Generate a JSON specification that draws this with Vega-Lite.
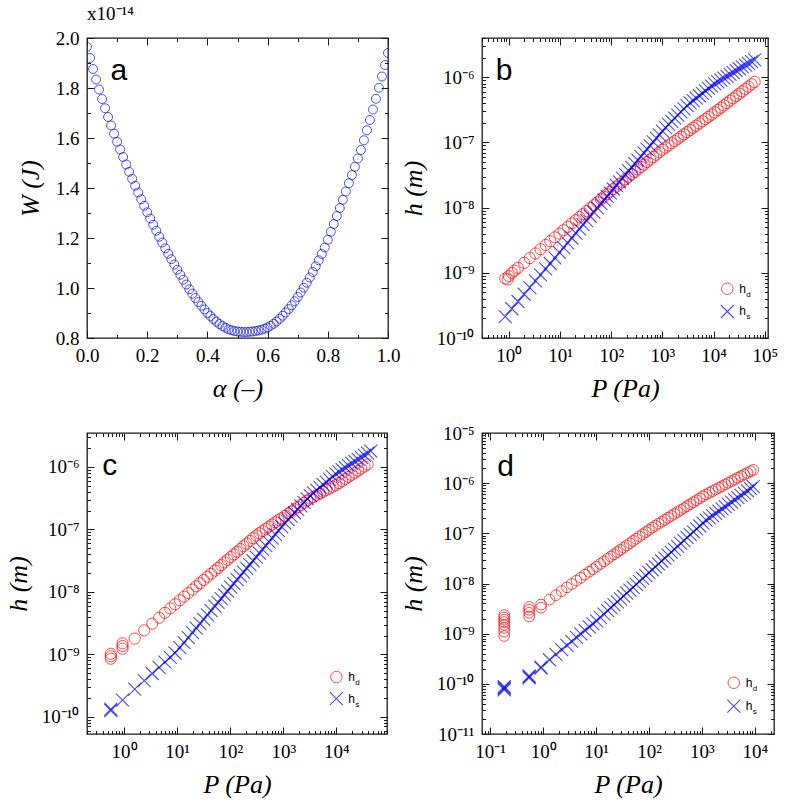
{
"$schema": "https://vega.github.io/schema/vega-lite/v6.json",
"background": "white",
"padding": {"left": 4, "top": 4, "right": 5, "bottom": 5},
"bounds": "flush",
"columns": 2,
"spacing": {"row": 95, "column": 94},
"datasets": {
"a": [
{"alpha":0,"W":1.965},{"alpha":0.01,"W":1.92},{"alpha":0.02,"W":1.876},{"alpha":0.03,"W":1.834},{"alpha":0.04,"W":1.794},{"alpha":0.05,"W":1.756},{"alpha":0.06,"W":1.719},{"alpha":0.07,"W":1.684},{"alpha":0.08,"W":1.65},{"alpha":0.09,"W":1.617},
{"alpha":0.1,"W":1.585},{"alpha":0.11,"W":1.554},{"alpha":0.12,"W":1.524},{"alpha":0.13,"W":1.494},{"alpha":0.14,"W":1.465},{"alpha":0.15,"W":1.437},{"alpha":0.16,"W":1.409},{"alpha":0.17,"W":1.382},{"alpha":0.18,"W":1.355},{"alpha":0.19,"W":1.329},
{"alpha":0.2,"W":1.303},{"alpha":0.21,"W":1.278},{"alpha":0.22,"W":1.253},{"alpha":0.23,"W":1.229},{"alpha":0.24,"W":1.205},{"alpha":0.25,"W":1.182},{"alpha":0.26,"W":1.159},{"alpha":0.27,"W":1.137},{"alpha":0.28,"W":1.115},{"alpha":0.29,"W":1.094},
{"alpha":0.3,"W":1.073},{"alpha":0.31,"W":1.053},{"alpha":0.32,"W":1.033},{"alpha":0.33,"W":1.014},{"alpha":0.34,"W":0.995},{"alpha":0.35,"W":0.977},{"alpha":0.36,"W":0.96},{"alpha":0.37,"W":0.944},{"alpha":0.38,"W":0.929},{"alpha":0.39,"W":0.914},
{"alpha":0.4,"W":0.9},{"alpha":0.41,"W":0.888},{"alpha":0.42,"W":0.876},{"alpha":0.43,"W":0.865},{"alpha":0.44,"W":0.856},{"alpha":0.45,"W":0.848},{"alpha":0.46,"W":0.841},{"alpha":0.47,"W":0.835},{"alpha":0.48,"W":0.831},{"alpha":0.49,"W":0.828},
{"alpha":0.5,"W":0.826},{"alpha":0.51,"W":0.825},{"alpha":0.52,"W":0.824},{"alpha":0.53,"W":0.824},{"alpha":0.54,"W":0.825},{"alpha":0.55,"W":0.826},{"alpha":0.56,"W":0.828},{"alpha":0.57,"W":0.83},{"alpha":0.58,"W":0.833},{"alpha":0.59,"W":0.837},
{"alpha":0.6,"W":0.842},{"alpha":0.61,"W":0.849},{"alpha":0.62,"W":0.857},{"alpha":0.63,"W":0.866},{"alpha":0.64,"W":0.877},{"alpha":0.65,"W":0.889},{"alpha":0.66,"W":0.902},{"alpha":0.67,"W":0.916},{"alpha":0.68,"W":0.931},{"alpha":0.69,"W":0.947},
{"alpha":0.7,"W":0.964},{"alpha":0.71,"W":0.982},{"alpha":0.72,"W":1.001},{"alpha":0.73,"W":1.021},{"alpha":0.74,"W":1.042},{"alpha":0.75,"W":1.064},{"alpha":0.76,"W":1.087},{"alpha":0.77,"W":1.111},{"alpha":0.78,"W":1.136},{"alpha":0.79,"W":1.162},
{"alpha":0.8,"W":1.193},{"alpha":0.81,"W":1.225},{"alpha":0.82,"W":1.256},{"alpha":0.83,"W":1.288},{"alpha":0.84,"W":1.32},{"alpha":0.85,"W":1.353},{"alpha":0.86,"W":1.386},{"alpha":0.87,"W":1.419},{"alpha":0.88,"W":1.452},{"alpha":0.89,"W":1.485},
{"alpha":0.9,"W":1.518},{"alpha":0.91,"W":1.552},{"alpha":0.92,"W":1.591},{"alpha":0.93,"W":1.631},{"alpha":0.94,"W":1.672},{"alpha":0.95,"W":1.714},{"alpha":0.96,"W":1.757},{"alpha":0.97,"W":1.801},{"alpha":0.98,"W":1.846},{"alpha":0.99,"W":1.892},
{"alpha":1,"W":1.94}
],
"b": [
{"P":0.851,"hd":8.18e-10,"hs":2.13e-10},{"P":0.95,"hd":7.9e-10},{"P":1.0,"hd":8.9e-10},{"P":1.3,"hd":1.08e-9},
{"P":1.148,"hd":9.94e-10,"hs":2.81e-10},{"P":1.514,"hd":1.19e-9,"hs":3.63e-10},{"P":1.995,"hd":1.42e-9,"hs":4.69e-10},{"P":2.57,"hd":1.68e-9,"hs":5.94e-10},{"P":3.311,"hd":1.98e-9,"hs":7.51e-10},{"P":4.169,"hd":2.3e-9,"hs":9.29e-10},{"P":5.248,"hd":2.67e-9,"hs":1.15e-9},{"P":6.457,"hd":3.05e-9,"hs":1.39e-9},{"P":7.943,"hd":3.5e-9,"hs":1.69e-9},{"P":9.772,"hd":4.0e-9,"hs":2.05e-9},
{"P":11.75,"hd":4.51e-9,"hs":2.43e-9},{"P":14.13,"hd":5.08e-9,"hs":2.88e-9},{"P":16.98,"hd":5.73e-9,"hs":3.42e-9},{"P":20.42,"hd":6.46e-9,"hs":4.05e-9},{"P":23.99,"hd":7.17e-9,"hs":4.71e-9},{"P":28.18,"hd":7.96e-9,"hs":5.47e-9},{"P":33.11,"hd":8.84e-9,"hs":6.34e-9},{"P":38.9,"hd":9.82e-9,"hs":7.37e-9},{"P":45.71,"hd":1.09e-8,"hs":8.55e-9},{"P":53.7,"hd":1.21e-8,"hs":9.93e-9},
{"P":63.1,"hd":1.34e-8,"hs":1.15e-8},{"P":72.44,"hd":1.47e-8,"hs":1.31e-8},{"P":83.18,"hd":1.61e-8,"hs":1.49e-8},{"P":95.5,"hd":1.76e-8,"hs":1.69e-8},{"P":109.6,"hd":1.92e-8,"hs":1.93e-8},{"P":125.9,"hd":2.1e-8,"hs":2.19e-8},{"P":144.5,"hd":2.29e-8,"hs":2.49e-8},{"P":166,"hd":2.49e-8,"hs":2.83e-8},{"P":190.5,"hd":2.72e-8,"hs":3.21e-8},{"P":218.8,"hd":2.97e-8,"hs":3.65e-8},
{"P":251.2,"hd":3.24e-8,"hs":4.15e-8},{"P":288.4,"hd":3.53e-8,"hs":4.72e-8},{"P":331.1,"hd":3.86e-8,"hs":5.36e-8},{"P":380.2,"hd":4.21e-8,"hs":6.1e-8},{"P":436.5,"hd":4.59e-8,"hs":6.93e-8},{"P":501.2,"hd":5.01e-8,"hs":7.88e-8},{"P":575.4,"hd":5.46e-8,"hs":8.95e-8},{"P":660.7,"hd":5.96e-8,"hs":1.02e-7},{"P":758.6,"hd":6.5e-8,"hs":1.16e-7},{"P":871,"hd":7.09e-8,"hs":1.31e-7},
{"P":1000,"hd":7.74e-8,"hs":1.49e-7},{"P":1148,"hd":8.36e-8,"hs":1.69e-7},{"P":1318,"hd":9.03e-8,"hs":1.89e-7},{"P":1514,"hd":9.76e-8,"hs":2.11e-7},{"P":1738,"hd":1.05e-7,"hs":2.36e-7},{"P":1995,"hd":1.14e-7,"hs":2.63e-7},{"P":2291,"hd":1.23e-7,"hs":2.94e-7},{"P":2630,"hd":1.33e-7,"hs":3.28e-7},{"P":3020,"hd":1.44e-7,"hs":3.66e-7},{"P":3467,"hd":1.55e-7,"hs":4.03e-7},
{"P":3981,"hd":1.68e-7,"hs":4.39e-7},{"P":4571,"hd":1.81e-7,"hs":4.78e-7},{"P":5248,"hd":1.96e-7,"hs":5.2e-7},{"P":6026,"hd":2.11e-7,"hs":5.67e-7},{"P":6918,"hd":2.29e-7,"hs":6.18e-7},{"P":7943,"hd":2.47e-7,"hs":6.73e-7},{"P":9120,"hd":2.67e-7,"hs":7.33e-7},{"P":10470,"hd":2.89e-7,"hs":7.94e-7},{"P":12020,"hd":3.14e-7,"hs":8.48e-7},{"P":13800,"hd":3.41e-7,"hs":9.06e-7},
{"P":15850,"hd":3.7e-7,"hs":9.68e-7},{"P":18200,"hd":4.02e-7,"hs":1.03e-6},{"P":20890,"hd":4.37e-7,"hs":1.11e-6},{"P":23990,"hd":4.75e-7,"hs":1.18e-6},{"P":27540,"hd":5.16e-7,"hs":1.26e-6},{"P":31620,"hd":5.6e-7,"hs":1.35e-6},{"P":36310,"hd":6.09e-7,"hs":1.44e-6},{"P":41690,"hd":6.61e-7,"hs":1.53e-6},{"P":47860,"hd":7.19e-7,"hs":1.63e-6},{"P":54950,"hd":7.81e-7,"hs":1.73e-6},
{"P":63100,"hd":8.48e-7,"hs":1.84e-6}
],
"c": [
{"P":0.5623,"hd":8.51e-10,"hs":1.26e-10},{"P":0.5623,"hd":9.3e-10,"hs":1.33e-10},{"P":0.5623,"hd":1.02e-9},{"P":0.9333,"hd":1.23e-9,"hs":1.85e-10},{"P":0.9333,"hd":1.36e-9},{"P":0.9333,"hd":1.5e-9},
{"P":1.585,"hd":1.79e-9,"hs":2.77e-10},{"P":2.399,"hd":2.42e-9,"hs":3.79e-10},{"P":3.388,"hd":3.1e-9,"hs":4.93e-10},{"P":4.571,"hd":3.85e-9,"hs":6.19e-10},{"P":5.888,"hd":4.62e-9,"hs":7.5e-10},{"P":7.413,"hd":5.45e-9,"hs":8.94e-10},{"P":9.12,"hd":6.33e-9,"hs":1.05e-9},{"P":11.22,"hd":7.35e-9,"hs":1.28e-9},{"P":13.49,"hd":8.39e-9,"hs":1.54e-9},{"P":16.22,"hd":9.58e-9,"hs":1.85e-9},
{"P":19.5,"hd":1.09e-8,"hs":2.23e-9},{"P":22.91,"hd":1.23e-8,"hs":2.63e-9},{"P":26.92,"hd":1.38e-8,"hs":3.09e-9},{"P":31.62,"hd":1.55e-8,"hs":3.63e-9},{"P":37.15,"hd":1.74e-8,"hs":4.27e-9},{"P":43.65,"hd":1.95e-8,"hs":5.03e-9},{"P":51.29,"hd":2.19e-8,"hs":5.91e-9},{"P":58.88,"hd":2.42e-8,"hs":6.8e-9},{"P":67.61,"hd":2.68e-8,"hs":7.81e-9},{"P":77.62,"hd":2.96e-8,"hs":8.98e-9},
{"P":89.13,"hd":3.27e-8,"hs":1.03e-8},{"P":102.3,"hd":3.61e-8,"hs":1.19e-8},{"P":117.5,"hd":3.98e-8,"hs":1.36e-8},{"P":134.9,"hd":4.4e-8,"hs":1.57e-8},{"P":154.9,"hd":4.86e-8,"hs":1.8e-8},{"P":177.8,"hd":5.37e-8,"hs":2.07e-8},{"P":204.2,"hd":5.93e-8,"hs":2.38e-8},{"P":234.4,"hd":6.55e-8,"hs":2.74e-8},{"P":269.2,"hd":7.24e-8,"hs":3.15e-8},{"P":309,"hd":7.99e-8,"hs":3.61e-8},
{"P":354.8,"hd":8.69e-8,"hs":4.16e-8},{"P":407.4,"hd":9.41e-8,"hs":4.78e-8},{"P":467.7,"hd":1.02e-7,"hs":5.49e-8},{"P":537,"hd":1.11e-7,"hs":6.31e-8},{"P":616.6,"hd":1.2e-7,"hs":7.25e-8},{"P":707.9,"hd":1.3e-7,"hs":8.34e-8},{"P":812.8,"hd":1.41e-7,"hs":9.58e-8},{"P":933.3,"hd":1.52e-7,"hs":1.1e-7},{"P":1072,"hd":1.65e-7,"hs":1.26e-7},{"P":1230,"hd":1.79e-7,"hs":1.43e-7},
{"P":1413,"hd":1.94e-7,"hs":1.62e-7},{"P":1622,"hd":2.1e-7,"hs":1.85e-7},{"P":1862,"hd":2.27e-7,"hs":2.1e-7},{"P":2138,"hd":2.46e-7,"hs":2.39e-7},{"P":2455,"hd":2.67e-7,"hs":2.72e-7},{"P":2818,"hd":2.89e-7,"hs":3.09e-7},{"P":3236,"hd":3.12e-7,"hs":3.49e-7},{"P":3715,"hd":3.32e-7,"hs":3.86e-7},{"P":4266,"hd":3.54e-7,"hs":4.26e-7},{"P":4898,"hd":3.76e-7,"hs":4.71e-7},
{"P":5623,"hd":4.0e-7,"hs":5.2e-7},{"P":6457,"hd":4.26e-7,"hs":5.74e-7},{"P":7413,"hd":4.53e-7,"hs":6.34e-7},{"P":8511,"hd":4.83e-7,"hs":7.01e-7},{"P":9772,"hd":5.13e-7,"hs":7.74e-7},{"P":11220,"hd":5.53e-7,"hs":8.38e-7},{"P":12880,"hd":5.96e-7,"hs":9.05e-7},{"P":14790,"hd":6.43e-7,"hs":9.76e-7},{"P":16980,"hd":6.94e-7,"hs":1.05e-6},{"P":19500,"hd":7.49e-7,"hs":1.14e-6},
{"P":22390,"hd":8.08e-7,"hs":1.23e-6},{"P":25700,"hd":8.72e-7,"hs":1.32e-6},{"P":29510,"hd":9.41e-7,"hs":1.43e-6},{"P":33880,"hd":1.02e-6,"hs":1.54e-6},{"P":38900,"hd":1.1e-6,"hs":1.66e-6},{"P":44670,"hs":1.79e-6}
],
"d": [
{"P":0.184,"hd":9.0e-10,"hs":7.6e-11},{"P":0.184,"hd":1.1e-9,"hs":8.0e-11},{"P":0.184,"hd":1.3e-9,"hs":8.4e-11},{"P":0.184,"hd":1.5e-9,"hs":8.8e-11},{"P":0.184,"hd":1.7e-9},{"P":0.184,"hd":1.9e-9},{"P":0.184,"hd":2.1e-9},{"P":0.184,"hd":2.35e-9},
{"P":0.544,"hd":2.2e-9,"hs":1.32e-10},{"P":0.544,"hd":2.6e-9,"hs":1.38e-10},{"P":0.544,"hd":3.0e-9,"hs":1.44e-10},{"P":0.544,"hd":3.4e-9},{"P":0.912,"hd":3.3e-9,"hs":2.05e-10},{"P":0.912,"hd":3.8e-9,"hs":2.15e-10},
{"P":1.318,"hd":4.77e-9,"hs":3.02e-10},{"P":1.738,"hd":5.86e-9,"hs":3.85e-10},{"P":2.239,"hd":7.06e-9,"hs":4.79e-10},{"P":2.818,"hd":8.38e-9,"hs":5.86e-10},{"P":3.467,"hd":9.76e-9,"hs":7.01e-10},{"P":4.266,"hd":1.14e-8,"hs":8.4e-10},{"P":5.129,"hd":1.3e-8,"hs":9.86e-10},{"P":6.166,"hd":1.5e-8,"hs":1.16e-9},{"P":7.413,"hd":1.71e-8,"hs":1.36e-9},{"P":8.71,"hd":1.93e-8,"hs":1.56e-9},
{"P":10.23,"hd":2.17e-8,"hs":1.8e-9},{"P":12.02,"hd":2.45e-8,"hs":2.11e-9},{"P":14.13,"hd":2.76e-8,"hs":2.46e-9},{"P":16.6,"hd":3.11e-8,"hs":2.88e-9},{"P":19.05,"hd":3.45e-8,"hs":3.29e-9},{"P":21.88,"hd":3.82e-8,"hs":3.76e-9},{"P":25.12,"hd":4.23e-8,"hs":4.31e-9},{"P":28.84,"hd":4.68e-8,"hs":4.92e-9},{"P":33.11,"hd":5.19e-8,"hs":5.63e-9},{"P":38.02,"hd":5.74e-8,"hs":6.44e-9},
{"P":43.65,"hd":6.36e-8,"hs":7.36e-9},{"P":50.12,"hd":7.05e-8,"hs":8.41e-9},{"P":57.54,"hd":7.81e-8,"hs":9.62e-9},{"P":66.07,"hd":8.65e-8,"hs":1.1e-8},{"P":75.86,"hd":9.58e-8,"hs":1.26e-8},{"P":87.1,"hd":1.06e-7,"hs":1.44e-8},{"P":100,"hd":1.17e-7,"hs":1.64e-8},{"P":114.8,"hd":1.3e-7,"hs":1.88e-8},{"P":131.8,"hd":1.42e-7,"hs":2.15e-8},{"P":151.4,"hd":1.56e-7,"hs":2.46e-8},
{"P":173.8,"hd":1.7e-7,"hs":2.81e-8},{"P":199.5,"hd":1.86e-7,"hs":3.21e-8},{"P":229.1,"hd":2.04e-7,"hs":3.67e-8},{"P":263,"hd":2.23e-7,"hs":4.2e-8},{"P":302,"hd":2.44e-7,"hs":4.8e-8},{"P":346.7,"hd":2.67e-7,"hs":5.49e-8},{"P":398.1,"hd":2.92e-7,"hs":6.28e-8},{"P":457.1,"hd":3.19e-7,"hs":7.18e-8},{"P":524.8,"hd":3.49e-7,"hs":8.21e-8},{"P":602.6,"hd":3.82e-7,"hs":9.39e-8},
{"P":691.8,"hd":4.18e-7,"hs":1.07e-7},{"P":794.3,"hd":4.57e-7,"hs":1.23e-7},{"P":912,"hd":5.0e-7,"hs":1.4e-7},{"P":1047,"hd":5.47e-7,"hs":1.6e-7},{"P":1202,"hd":5.97e-7,"hs":1.83e-7},{"P":1380,"hd":6.44e-7,"hs":2.03e-7},{"P":1585,"hd":6.95e-7,"hs":2.25e-7},{"P":1820,"hd":7.5e-7,"hs":2.49e-7},{"P":2089,"hd":8.09e-7,"hs":2.76e-7},{"P":2399,"hd":8.73e-7,"hs":3.07e-7},
{"P":2754,"hd":9.42e-7,"hs":3.4e-7},{"P":3162,"hd":1.02e-6,"hs":3.77e-7},{"P":3631,"hd":1.1e-6,"hs":4.18e-7},{"P":4169,"hd":1.18e-6,"hs":4.64e-7},{"P":4786,"hd":1.28e-6,"hs":5.15e-7},{"P":5495,"hd":1.38e-6,"hs":5.71e-7},{"P":6310,"hd":1.49e-6,"hs":6.33e-7},{"P":7244,"hd":1.6e-6,"hs":7.02e-7},{"P":8318,"hd":1.73e-6,"hs":7.79e-7},{"P":9333,"hd":1.84e-6,"hs":8.49e-7}
]
},
"concat": [
{"width": 301, "height": 300,
 "title": {"text": "x10⁻¹⁴", "anchor": "start", "frame": "group", "font": "Liberation Serif", "fontSize": 19, "fontWeight": "normal", "color": "#000", "offset": 5},
 "layer": [
  {"data": {"name": "a"},
   "mark": {"type": "point", "shape": "circle", "filled": false, "color": "#0000ff", "strokeWidth": 1, "size": 80, "clip": true},
   "encoding": {
    "x": {"field": "alpha", "type": "quantitative", "scale": {"domain": [0, 1], "nice": false, "zero": false},
      "axis": {"orient": "bottom", "values": [0,0.1,0.2,0.3,0.4,0.5,0.6,0.7,0.8,0.9,1], "labelExpr": "round(datum.value*10)%2==0 ? format(datum.value,'.1f') : ''", "tickDash": {"condition": {"test": "round(datum.value*10)%2==1", "value": [3.5, 30]}, "value": [8, 0]}, "title": "α (–)", "titlePadding": 10}},
    "y": {"field": "W", "type": "quantitative", "scale": {"domain": [0.8, 2.0], "nice": false, "zero": false},
      "axis": {"orient": "left", "values": [0.8,0.9,1,1.1,1.2,1.3,1.4,1.5,1.6,1.7,1.8,1.9,2], "labelExpr": "round(datum.value*10)%2==0 ? format(datum.value,'.1f') : ''", "tickDash": {"condition": {"test": "round(datum.value*10)%2==1", "value": [3.5, 30]}, "value": [8, 0]}, "title": "W  (J)", "titlePadding": 12}}
   }},
  {"data": {"values": [{}]},
   "mark": {"type": "text", "text": "a", "font": "Liberation Sans", "fontSize": 30, "align": "center", "baseline": "alphabetic", "color": "#000"},
   "encoding": {
    "x": {"datum": 0.106, "type": "quantitative", "scale": {"domain": [0, 1], "nice": false, "zero": false},
      "axis": {"orient": "top", "values": [0,0.1,0.2,0.3,0.4,0.5,0.6,0.7,0.8,0.9,1], "labels": false, "tickDash": {"condition": {"test": "round(datum.value*10)%2==1", "value": [3.5, 30]}, "value": [8, 0]}, "title": null}},
    "y": {"datum": 1.833, "type": "quantitative", "scale": {"domain": [0.8, 2.0], "nice": false, "zero": false},
      "axis": {"orient": "right", "values": [0.8,0.9,1,1.1,1.2,1.3,1.4,1.5,1.6,1.7,1.8,1.9,2], "labels": false, "tickDash": {"condition": {"test": "round(datum.value*10)%2==1", "value": [3.5, 30]}, "value": [8, 0]}, "title": null}}
   }}
 ],
 "resolve": {"axis": {"x": "independent", "y": "independent"}}
},
{"width": 286, "height": 300,
 "layer": [
  {"data": {"name": "b"},
   "mark": {"type": "point", "shape": "circle", "filled": false, "color": "#ff0000", "strokeWidth": 1, "size": 125, "clip": true},
   "encoding": {
    "x": {"field": "P", "type": "quantitative", "scale": {"type": "log", "domain": [0.3, 115000], "nice": false},
      "axis": {"orient": "bottom", "values": [0.3,0.4,0.5,0.6,0.7,0.8,0.9,1,2,3,4,5,6,7,8,9,10,20,30,40,50,60,70,80,90,100,200,300,400,500,600,700,800,900,1000,2000,3000,4000,5000,6000,7000,8000,9000,10000,20000,30000,40000,50000,60000,70000,80000,90000,100000],
        "labelExpr": "abs(log(datum.value)/LN10-round(log(datum.value)/LN10))>0.01 ? '' : '10'+(datum.value<1?'⁻':'')+(abs(round(log(datum.value)/LN10))>=10?'¹':'')+substring('⁰¹²³⁴⁵⁶⁷⁸⁹',abs(round(log(datum.value)/LN10))%10,abs(round(log(datum.value)/LN10))%10+1)",
        "tickDash": {"condition": {"test": "abs(log(datum.value)/LN10-round(log(datum.value)/LN10))>0.01", "value": [3.5, 30]}, "value": [8, 0]}, "title": "P (Pa)", "titlePadding": 10}},
    "y": {"field": "hd", "type": "quantitative", "scale": {"type": "log", "domain": [1e-10, 4e-6], "nice": false},
      "axis": {"orient": "left", "values": [1e-10,2e-10,3e-10,4e-10,5e-10,6e-10,7e-10,8e-10,9e-10,1e-9,2e-9,3e-9,4e-9,5e-9,6e-9,7e-9,8e-9,9e-9,1e-8,2e-8,3e-8,4e-8,5e-8,6e-8,7e-8,8e-8,9e-8,1e-7,2e-7,3e-7,4e-7,5e-7,6e-7,7e-7,8e-7,9e-7,1e-6,2e-6,3e-6,4e-6],
        "labelExpr": "abs(log(datum.value)/LN10-round(log(datum.value)/LN10))>0.01 ? '' : '10'+(datum.value<1?'⁻':'')+(abs(round(log(datum.value)/LN10))>=10?'¹':'')+substring('⁰¹²³⁴⁵⁶⁷⁸⁹',abs(round(log(datum.value)/LN10))%10,abs(round(log(datum.value)/LN10))%10+1)",
        "tickDash": {"condition": {"test": "abs(log(datum.value)/LN10-round(log(datum.value)/LN10))>0.01", "value": [3.5, 30]}, "value": [8, 0]}, "title": "h  (m)", "titlePadding": 10}}
   }},
  {"data": {"name": "b"},
   "mark": {"type": "point", "shape": "M-1,-1L1,1M-1,1L1,-1", "filled": false, "color": "#0000ff", "strokeWidth": 1.1, "size": 169, "clip": true},
   "encoding": {
    "x": {"field": "P", "type": "quantitative", "scale": {"type": "log", "domain": [0.3, 115000], "nice": false},
      "axis": {"orient": "top", "values": [0.3,0.4,0.5,0.6,0.7,0.8,0.9,1,2,3,4,5,6,7,8,9,10,20,30,40,50,60,70,80,90,100,200,300,400,500,600,700,800,900,1000,2000,3000,4000,5000,6000,7000,8000,9000,10000,20000,30000,40000,50000,60000,70000,80000,90000,100000], "labels": false,
        "tickDash": {"condition": {"test": "abs(log(datum.value)/LN10-round(log(datum.value)/LN10))>0.01", "value": [3.5, 30]}, "value": [8, 0]}, "title": null}},
    "y": {"field": "hs", "type": "quantitative", "scale": {"type": "log", "domain": [1e-10, 4e-6], "nice": false},
      "axis": {"orient": "right", "values": [1e-10,2e-10,3e-10,4e-10,5e-10,6e-10,7e-10,8e-10,9e-10,1e-9,2e-9,3e-9,4e-9,5e-9,6e-9,7e-9,8e-9,9e-9,1e-8,2e-8,3e-8,4e-8,5e-8,6e-8,7e-8,8e-8,9e-8,1e-7,2e-7,3e-7,4e-7,5e-7,6e-7,7e-7,8e-7,9e-7,1e-6,2e-6,3e-6,4e-6], "labels": false,
        "tickDash": {"condition": {"test": "abs(log(datum.value)/LN10-round(log(datum.value)/LN10))>0.01", "value": [3.5, 30]}, "value": [8, 0]}, "title": null}}
   }},
  {"data": {"values": [{}]},
   "mark": {"type": "text", "text": "b", "font": "Liberation Sans", "fontSize": 30, "align": "center", "baseline": "alphabetic", "color": "#000"},
   "encoding": {"x": {"datum": 0.806, "type": "quantitative", "axis": null}, "y": {"datum": 9.04e-7, "type": "quantitative", "axis": null}}},
  {"data": {"values": [{}]},
   "mark": {"type": "point", "shape": "circle", "filled": false, "color": "#ff0000", "strokeWidth": 1, "size": 133},
   "encoding": {"x": {"datum": 18500, "type": "quantitative", "axis": null}, "y": {"datum": 5.69e-10, "type": "quantitative", "axis": null}}},
  {"data": {"values": [{}]},
   "mark": {"type": "point", "shape": "M-1,-1L1,1M-1,1L1,-1", "filled": false, "color": "#0000ff", "strokeWidth": 1.1, "size": 169},
   "encoding": {"x": {"datum": 18500, "type": "quantitative", "axis": null}, "y": {"datum": 2.55e-10, "type": "quantitative", "axis": null}}},
  {"data": {"values": [{}]},
   "mark": {"type": "text", "text": "h", "font": "Liberation Sans", "fontSize": 12, "align": "left", "baseline": "alphabetic", "dx": 12, "dy": 4, "color": "#000"},
   "encoding": {"x": {"datum": 18500, "type": "quantitative", "axis": null}, "y": {"datum": 5.69e-10, "type": "quantitative", "axis": null}}},
  {"data": {"values": [{}]},
   "mark": {"type": "text", "text": "d", "font": "Liberation Sans", "fontSize": 8, "align": "left", "baseline": "alphabetic", "dx": 19, "dy": 8, "color": "#000"},
   "encoding": {"x": {"datum": 18500, "type": "quantitative", "axis": null}, "y": {"datum": 5.69e-10, "type": "quantitative", "axis": null}}},
  {"data": {"values": [{}]},
   "mark": {"type": "text", "text": "h", "font": "Liberation Sans", "fontSize": 12, "align": "left", "baseline": "alphabetic", "dx": 12, "dy": 4, "color": "#000"},
   "encoding": {"x": {"datum": 18500, "type": "quantitative", "axis": null}, "y": {"datum": 2.55e-10, "type": "quantitative", "axis": null}}},
  {"data": {"values": [{}]},
   "mark": {"type": "text", "text": "s", "font": "Liberation Sans", "fontSize": 8, "align": "left", "baseline": "alphabetic", "dx": 19, "dy": 8, "color": "#000"},
   "encoding": {"x": {"datum": 18500, "type": "quantitative", "axis": null}, "y": {"datum": 2.55e-10, "type": "quantitative", "axis": null}}}
 ],
 "resolve": {"axis": {"x": "independent", "y": "independent"}}
},
{"width": 300, "height": 301,
 "layer": [
  {"data": {"name": "c"},
   "mark": {"type": "point", "shape": "circle", "filled": false, "color": "#ff0000", "strokeWidth": 1, "size": 125, "clip": true},
   "encoding": {
    "x": {"field": "P", "type": "quantitative", "scale": {"type": "log", "domain": [0.2, 90000], "nice": false},
      "axis": {"orient": "bottom", "values": [0.2,0.3,0.4,0.5,0.6,0.7,0.8,0.9,1,2,3,4,5,6,7,8,9,10,20,30,40,50,60,70,80,90,100,200,300,400,500,600,700,800,900,1000,2000,3000,4000,5000,6000,7000,8000,9000,10000,20000,30000,40000,50000,60000,70000,80000,90000],
        "labelExpr": "abs(log(datum.value)/LN10-round(log(datum.value)/LN10))>0.01 ? '' : '10'+(datum.value<1?'⁻':'')+(abs(round(log(datum.value)/LN10))>=10?'¹':'')+substring('⁰¹²³⁴⁵⁶⁷⁸⁹',abs(round(log(datum.value)/LN10))%10,abs(round(log(datum.value)/LN10))%10+1)",
        "tickDash": {"condition": {"test": "abs(log(datum.value)/LN10-round(log(datum.value)/LN10))>0.01", "value": [3.5, 30]}, "value": [8, 0]}, "title": "P (Pa)", "titlePadding": 10}},
    "y": {"field": "hd", "type": "quantitative", "scale": {"type": "log", "domain": [5.3e-11, 3.5e-6], "nice": false},
      "axis": {"orient": "left", "values": [6e-11,7e-11,8e-11,9e-11,1e-10,2e-10,3e-10,4e-10,5e-10,6e-10,7e-10,8e-10,9e-10,1e-9,2e-9,3e-9,4e-9,5e-9,6e-9,7e-9,8e-9,9e-9,1e-8,2e-8,3e-8,4e-8,5e-8,6e-8,7e-8,8e-8,9e-8,1e-7,2e-7,3e-7,4e-7,5e-7,6e-7,7e-7,8e-7,9e-7,1e-6,2e-6,3e-6],
        "labelExpr": "abs(log(datum.value)/LN10-round(log(datum.value)/LN10))>0.01 ? '' : '10'+(datum.value<1?'⁻':'')+(abs(round(log(datum.value)/LN10))>=10?'¹':'')+substring('⁰¹²³⁴⁵⁶⁷⁸⁹',abs(round(log(datum.value)/LN10))%10,abs(round(log(datum.value)/LN10))%10+1)",
        "tickDash": {"condition": {"test": "abs(log(datum.value)/LN10-round(log(datum.value)/LN10))>0.01", "value": [3.5, 30]}, "value": [8, 0]}, "title": "h  (m)", "titlePadding": 10}}
   }},
  {"data": {"name": "c"},
   "mark": {"type": "point", "shape": "M-1,-1L1,1M-1,1L1,-1", "filled": false, "color": "#0000ff", "strokeWidth": 1.1, "size": 169, "clip": true},
   "encoding": {
    "x": {"field": "P", "type": "quantitative", "scale": {"type": "log", "domain": [0.2, 90000], "nice": false},
      "axis": {"orient": "top", "values": [0.2,0.3,0.4,0.5,0.6,0.7,0.8,0.9,1,2,3,4,5,6,7,8,9,10,20,30,40,50,60,70,80,90,100,200,300,400,500,600,700,800,900,1000,2000,3000,4000,5000,6000,7000,8000,9000,10000,20000,30000,40000,50000,60000,70000,80000,90000], "labels": false,
        "tickDash": {"condition": {"test": "abs(log(datum.value)/LN10-round(log(datum.value)/LN10))>0.01", "value": [3.5, 30]}, "value": [8, 0]}, "title": null}},
    "y": {"field": "hs", "type": "quantitative", "scale": {"type": "log", "domain": [5.3e-11, 3.5e-6], "nice": false},
      "axis": {"orient": "right", "values": [6e-11,7e-11,8e-11,9e-11,1e-10,2e-10,3e-10,4e-10,5e-10,6e-10,7e-10,8e-10,9e-10,1e-9,2e-9,3e-9,4e-9,5e-9,6e-9,7e-9,8e-9,9e-9,1e-8,2e-8,3e-8,4e-8,5e-8,6e-8,7e-8,8e-8,9e-8,1e-7,2e-7,3e-7,4e-7,5e-7,6e-7,7e-7,8e-7,9e-7,1e-6,2e-6,3e-6], "labels": false,
        "tickDash": {"condition": {"test": "abs(log(datum.value)/LN10-round(log(datum.value)/LN10))>0.01", "value": [3.5, 30]}, "value": [8, 0]}, "title": null}}
   }},
  {"data": {"values": [{}]},
   "mark": {"type": "text", "text": "c", "font": "Liberation Sans", "fontSize": 30, "align": "center", "baseline": "alphabetic", "color": "#000"},
   "encoding": {"x": {"datum": 0.538, "type": "quantitative", "axis": null}, "y": {"datum": 7.43e-7, "type": "quantitative", "axis": null}}},
  {"data": {"values": [{}]},
   "mark": {"type": "point", "shape": "circle", "filled": false, "color": "#ff0000", "strokeWidth": 1, "size": 133},
   "encoding": {"x": {"datum": 10000, "type": "quantitative", "axis": null}, "y": {"datum": 4.33e-10, "type": "quantitative", "axis": null}}},
  {"data": {"values": [{}]},
   "mark": {"type": "point", "shape": "M-1,-1L1,1M-1,1L1,-1", "filled": false, "color": "#0000ff", "strokeWidth": 1.1, "size": 169},
   "encoding": {"x": {"datum": 10000, "type": "quantitative", "axis": null}, "y": {"datum": 1.95e-10, "type": "quantitative", "axis": null}}},
  {"data": {"values": [{}]},
   "mark": {"type": "text", "text": "h", "font": "Liberation Sans", "fontSize": 12, "align": "left", "baseline": "alphabetic", "dx": 12, "dy": 4, "color": "#000"},
   "encoding": {"x": {"datum": 10000, "type": "quantitative", "axis": null}, "y": {"datum": 4.33e-10, "type": "quantitative", "axis": null}}},
  {"data": {"values": [{}]},
   "mark": {"type": "text", "text": "d", "font": "Liberation Sans", "fontSize": 8, "align": "left", "baseline": "alphabetic", "dx": 19, "dy": 8, "color": "#000"},
   "encoding": {"x": {"datum": 10000, "type": "quantitative", "axis": null}, "y": {"datum": 4.33e-10, "type": "quantitative", "axis": null}}},
  {"data": {"values": [{}]},
   "mark": {"type": "text", "text": "h", "font": "Liberation Sans", "fontSize": 12, "align": "left", "baseline": "alphabetic", "dx": 12, "dy": 4, "color": "#000"},
   "encoding": {"x": {"datum": 10000, "type": "quantitative", "axis": null}, "y": {"datum": 1.95e-10, "type": "quantitative", "axis": null}}},
  {"data": {"values": [{}]},
   "mark": {"type": "text", "text": "s", "font": "Liberation Sans", "fontSize": 8, "align": "left", "baseline": "alphabetic", "dx": 19, "dy": 8, "color": "#000"},
   "encoding": {"x": {"datum": 10000, "type": "quantitative", "axis": null}, "y": {"datum": 1.95e-10, "type": "quantitative", "axis": null}}}
 ],
 "resolve": {"axis": {"x": "independent", "y": "independent"}}
},
{"width": 292, "height": 301,
 "layer": [
  {"data": {"name": "d"},
   "mark": {"type": "point", "shape": "circle", "filled": false, "color": "#ff0000", "strokeWidth": 1, "size": 115, "clip": true},
   "encoding": {
    "x": {"field": "P", "type": "quantitative", "scale": {"type": "log", "domain": [0.07, 23000], "nice": false},
      "axis": {"orient": "bottom", "values": [0.07,0.08,0.09,0.1,0.2,0.3,0.4,0.5,0.6,0.7,0.8,0.9,1,2,3,4,5,6,7,8,9,10,20,30,40,50,60,70,80,90,100,200,300,400,500,600,700,800,900,1000,2000,3000,4000,5000,6000,7000,8000,9000,10000,20000],
        "labelExpr": "abs(log(datum.value)/LN10-round(log(datum.value)/LN10))>0.01 ? '' : '10'+(datum.value<1?'⁻':'')+(abs(round(log(datum.value)/LN10))>=10?'¹':'')+substring('⁰¹²³⁴⁵⁶⁷⁸⁹',abs(round(log(datum.value)/LN10))%10,abs(round(log(datum.value)/LN10))%10+1)",
        "tickDash": {"condition": {"test": "abs(log(datum.value)/LN10-round(log(datum.value)/LN10))>0.01", "value": [3.5, 30]}, "value": [8, 0]}, "title": "P (Pa)", "titlePadding": 10}},
    "y": {"field": "hd", "type": "quantitative", "scale": {"type": "log", "domain": [1e-11, 1e-5], "nice": false},
      "axis": {"orient": "left", "values": [1e-11,2e-11,3e-11,4e-11,5e-11,6e-11,7e-11,8e-11,9e-11,1e-10,2e-10,3e-10,4e-10,5e-10,6e-10,7e-10,8e-10,9e-10,1e-9,2e-9,3e-9,4e-9,5e-9,6e-9,7e-9,8e-9,9e-9,1e-8,2e-8,3e-8,4e-8,5e-8,6e-8,7e-8,8e-8,9e-8,1e-7,2e-7,3e-7,4e-7,5e-7,6e-7,7e-7,8e-7,9e-7,1e-6,2e-6,3e-6,4e-6,5e-6,6e-6,7e-6,8e-6,9e-6,1e-5],
        "labelExpr": "abs(log(datum.value)/LN10-round(log(datum.value)/LN10))>0.01 ? '' : '10'+(datum.value<1?'⁻':'')+(abs(round(log(datum.value)/LN10))>=10?'¹':'')+substring('⁰¹²³⁴⁵⁶⁷⁸⁹',abs(round(log(datum.value)/LN10))%10,abs(round(log(datum.value)/LN10))%10+1)",
        "tickDash": {"condition": {"test": "abs(log(datum.value)/LN10-round(log(datum.value)/LN10))>0.01", "value": [3.5, 30]}, "value": [8, 0]}, "title": "h  (m)", "titlePadding": 10}}
   }},
  {"data": {"name": "d"},
   "mark": {"type": "point", "shape": "M-1,-1L1,1M-1,1L1,-1", "filled": false, "color": "#0000ff", "strokeWidth": 1.1, "size": 169, "clip": true},
   "encoding": {
    "x": {"field": "P", "type": "quantitative", "scale": {"type": "log", "domain": [0.07, 23000], "nice": false},
      "axis": {"orient": "top", "values": [0.07,0.08,0.09,0.1,0.2,0.3,0.4,0.5,0.6,0.7,0.8,0.9,1,2,3,4,5,6,7,8,9,10,20,30,40,50,60,70,80,90,100,200,300,400,500,600,700,800,900,1000,2000,3000,4000,5000,6000,7000,8000,9000,10000,20000], "labels": false,
        "tickDash": {"condition": {"test": "abs(log(datum.value)/LN10-round(log(datum.value)/LN10))>0.01", "value": [3.5, 30]}, "value": [8, 0]}, "title": null}},
    "y": {"field": "hs", "type": "quantitative", "scale": {"type": "log", "domain": [1e-11, 1e-5], "nice": false},
      "axis": {"orient": "right", "values": [1e-11,2e-11,3e-11,4e-11,5e-11,6e-11,7e-11,8e-11,9e-11,1e-10,2e-10,3e-10,4e-10,5e-10,6e-10,7e-10,8e-10,9e-10,1e-9,2e-9,3e-9,4e-9,5e-9,6e-9,7e-9,8e-9,9e-9,1e-8,2e-8,3e-8,4e-8,5e-8,6e-8,7e-8,8e-8,9e-8,1e-7,2e-7,3e-7,4e-7,5e-7,6e-7,7e-7,8e-7,9e-7,1e-6,2e-6,3e-6,4e-6,5e-6,6e-6,7e-6,8e-6,9e-6,1e-5], "labels": false,
        "tickDash": {"condition": {"test": "abs(log(datum.value)/LN10-round(log(datum.value)/LN10))>0.01", "value": [3.5, 30]}, "value": [8, 0]}, "title": null}}
   }},
  {"data": {"values": [{}]},
   "mark": {"type": "text", "text": "d", "font": "Liberation Sans", "fontSize": 30, "align": "center", "baseline": "alphabetic", "color": "#000"},
   "encoding": {"x": {"datum": 0.196, "type": "quantitative", "axis": null}, "y": {"datum": 1.36e-6, "type": "quantitative", "axis": null}}},
  {"data": {"values": [{}]},
   "mark": {"type": "point", "shape": "circle", "filled": false, "color": "#ff0000", "strokeWidth": 1, "size": 133},
   "encoding": {"x": {"datum": 4000, "type": "quantitative", "axis": null}, "y": {"datum": 1.05e-10, "type": "quantitative", "axis": null}}},
  {"data": {"values": [{}]},
   "mark": {"type": "point", "shape": "M-1,-1L1,1M-1,1L1,-1", "filled": false, "color": "#0000ff", "strokeWidth": 1.1, "size": 169},
   "encoding": {"x": {"datum": 4000, "type": "quantitative", "axis": null}, "y": {"datum": 3.58e-11, "type": "quantitative", "axis": null}}},
  {"data": {"values": [{}]},
   "mark": {"type": "text", "text": "h", "font": "Liberation Sans", "fontSize": 12, "align": "left", "baseline": "alphabetic", "dx": 12, "dy": 4, "color": "#000"},
   "encoding": {"x": {"datum": 4000, "type": "quantitative", "axis": null}, "y": {"datum": 1.05e-10, "type": "quantitative", "axis": null}}},
  {"data": {"values": [{}]},
   "mark": {"type": "text", "text": "d", "font": "Liberation Sans", "fontSize": 8, "align": "left", "baseline": "alphabetic", "dx": 19, "dy": 8, "color": "#000"},
   "encoding": {"x": {"datum": 4000, "type": "quantitative", "axis": null}, "y": {"datum": 1.05e-10, "type": "quantitative", "axis": null}}},
  {"data": {"values": [{}]},
   "mark": {"type": "text", "text": "h", "font": "Liberation Sans", "fontSize": 12, "align": "left", "baseline": "alphabetic", "dx": 12, "dy": 4, "color": "#000"},
   "encoding": {"x": {"datum": 4000, "type": "quantitative", "axis": null}, "y": {"datum": 3.58e-11, "type": "quantitative", "axis": null}}},
  {"data": {"values": [{}]},
   "mark": {"type": "text", "text": "s", "font": "Liberation Sans", "fontSize": 8, "align": "left", "baseline": "alphabetic", "dx": 19, "dy": 8, "color": "#000"},
   "encoding": {"x": {"datum": 4000, "type": "quantitative", "axis": null}, "y": {"datum": 3.58e-11, "type": "quantitative", "axis": null}}}
 ],
 "resolve": {"axis": {"x": "independent", "y": "independent"}}
}
],
"config": {
 "view": {"stroke": "#1a1a1a", "strokeWidth": 1.3},
 "axis": {"domain": false, "grid": false, "ticks": true, "tickColor": "#1a1a1a", "tickWidth": 1, "tickSize": -7, "labelFont": "Liberation Serif", "labelFontSize": 19, "labelColor": "#000", "labelPadding": 15, "labelFlush": false, "labelOverlap": false, "labelBound": false, "titleFont": "Liberation Serif", "titleFontSize": 26, "titleFontStyle": "italic", "titleFontWeight": "normal", "titleColor": "#000"}
}
}
